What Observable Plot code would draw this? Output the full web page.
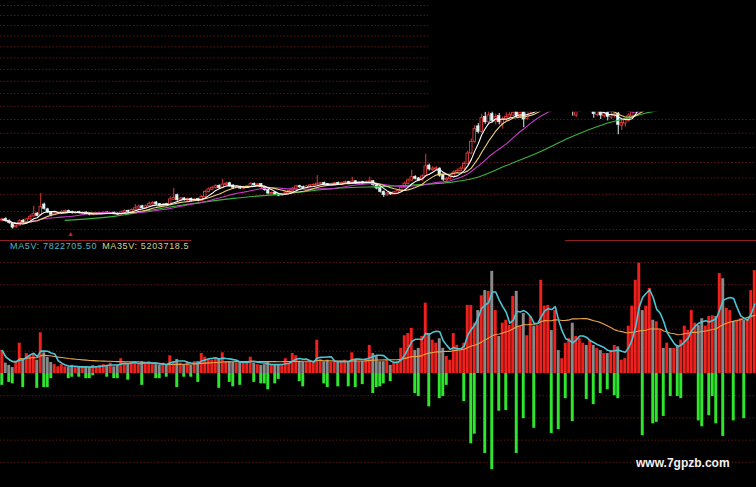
<!DOCTYPE html>
<html><head><meta charset="utf-8">
<script src="https://cdn.jsdelivr.net/npm/d3@7"></script>
<script src="https://cdn.jsdelivr.net/npm/@observablehq/plot@0.6"></script>
<style>
html,body{margin:0;padding:0;background:#000;}
#wrap{position:relative;width:756px;height:487px;background:#000;overflow:hidden;font-family:"Liberation Sans",Arial,sans-serif;}
#top,#bottom{position:absolute;left:0;width:756px;z-index:1;}
#top{top:0;height:240px;}
#bottom{top:240px;height:247px;}
.sep{position:absolute;top:240px;height:1px;background:#8e2020;z-index:3;}
#legend{position:absolute;left:10px;top:241px;white-space:nowrap;font-size:9px;letter-spacing:0.65px;line-height:11px;z-index:3;}
#legend .a{color:#52b8c4;margin-right:5px;}
#legend .b{color:#d6d28c;}
#mark{position:absolute;left:67px;top:230px;color:#d02020;font-size:7px;line-height:8px;z-index:3;}
#wm{position:absolute;left:636px;top:457px;color:#f2f2f2;font-weight:bold;font-size:12px;line-height:12px;z-index:3;}
</style>
</head>
<body>
<div id="wrap">
  <div id="top"></div>
  <div id="bottom"></div>
  <div class="sep" style="left:0;width:191px"></div>
  <div class="sep" style="left:565px;width:191px"></div>
  <div id="mark">▲</div>
  <div id="legend"><span class="a">MA5V: 7822705.50</span><span class="b">MA35V: 5203718.5</span></div>
  <div id="wm">www.7gpzb.com</div>
</div>
<script>
// ---- daily prices (216 sessions) ----
const open = [
19.48,19.58,19.48,19.32,19.12,19.22,19.48,19.40,19.56,19.72,
19.88,19.80,20.40,20.12,19.96,19.80,19.86,19.90,19.96,20.03,
19.97,19.89,19.96,19.88,19.94,19.86,19.79,19.83,19.86,19.89,
19.94,19.86,19.93,19.88,19.83,19.94,20.04,19.98,20.07,20.17,
20.30,20.18,20.30,20.41,20.52,20.42,20.31,20.42,20.38,20.68,
20.95,20.64,20.76,20.63,20.74,20.60,20.72,20.62,20.85,21.14,
21.28,21.38,21.52,21.38,21.58,21.68,21.54,21.38,21.46,21.34,
21.40,21.47,21.64,21.54,21.62,21.46,21.26,21.03,21.10,21.00,
20.92,20.99,21.10,21.19,21.34,21.50,21.45,21.37,21.47,21.54,
21.56,21.64,21.70,21.62,21.54,21.61,21.70,21.61,21.69,21.76,
21.67,21.80,21.69,21.76,21.67,21.73,21.80,21.56,21.38,21.16,
20.94,21.08,21.00,21.10,21.18,21.40,21.64,21.84,22.08,21.98,
21.86,22.12,22.80,22.50,22.55,22.60,22.18,21.86,21.94,22.05,
22.34,22.44,22.60,22.92,23.60,24.40,25.50,25.10,26.20,25.80,
26.40,25.85,26.25,25.70,26.00,26.15,26.30,26.60,26.20,26.55,
26.05,26.60,27.00,26.80,27.20,27.65,28.00,28.35,27.85,28.15,
27.60,27.30,27.10,27.30,26.30,26.60,27.05,27.25,26.75,26.95,
26.35,26.60,26.25,26.50,26.15,26.30,26.45,25.55,25.70,25.90,
26.25,26.70,27.30,28.10,27.70,28.20,28.85,28.45,28.65,28.95,
28.65,28.85,28.55,28.75,28.45,28.65,28.95,29.15,29.60,29.95,
29.65,29.25,29.50,29.80,30.10,29.85,30.65,30.20,30.60,30.95,
30.65,30.90,31.15,30.85,31.10,31.60];
const high = [
19.62,19.64,19.52,19.36,19.26,19.55,19.55,19.62,19.80,20.30,
19.94,21.05,20.48,20.18,20.00,19.95,19.98,20.05,20.08,20.08,
20.02,20.00,20.01,19.98,19.98,19.90,19.89,19.92,19.95,19.98,
19.98,19.97,19.97,19.92,20.02,20.10,20.08,20.15,20.40,20.36,
20.36,20.38,20.55,20.58,20.58,20.46,20.46,20.47,20.85,21.36,
21.02,20.82,20.80,20.78,20.78,20.76,20.77,20.92,21.25,21.40,
21.48,21.58,21.58,21.92,21.74,21.74,21.58,21.52,21.50,21.48,
21.54,21.72,21.70,21.66,21.66,21.50,21.30,21.14,21.14,21.04,
21.06,21.16,21.26,21.42,21.55,21.55,21.50,21.54,21.60,21.64,
22.15,21.74,21.75,21.66,21.68,21.74,21.75,21.76,21.82,21.80,
22.05,21.84,21.80,21.80,21.82,22.05,21.85,21.60,21.42,21.20,
21.12,21.13,21.18,21.28,21.48,21.75,21.95,22.50,22.15,22.04,
22.20,23.55,22.90,22.72,22.74,22.66,22.24,22.05,22.14,22.45,
22.58,22.72,23.05,23.75,24.60,25.55,25.70,26.40,26.55,26.60,
26.70,26.40,26.45,26.20,26.50,26.60,26.70,26.80,26.70,26.75,
26.80,27.10,27.20,27.40,27.90,28.30,28.60,28.50,28.40,28.30,
28.00,27.70,27.60,27.45,26.75,27.30,27.40,27.40,27.10,27.05,
26.75,26.75,26.65,26.65,26.55,26.60,26.55,25.95,26.10,26.45,
26.85,27.50,28.30,28.40,28.40,29.00,29.00,28.90,29.10,29.10,
29.00,29.00,28.90,28.90,28.85,29.15,29.35,29.80,30.15,30.10,
29.80,29.70,30.00,30.25,30.25,30.85,30.90,30.80,31.10,31.10,
31.10,31.30,31.30,31.30,31.80,32.40];
const low = [
19.42,19.40,19.28,19.02,19.06,19.18,19.32,19.36,19.52,19.68,
19.70,19.76,20.08,19.88,19.70,19.76,19.82,19.86,19.92,19.90,
19.85,19.85,19.86,19.84,19.80,19.75,19.76,19.80,19.83,19.86,
19.83,19.83,19.82,19.78,19.80,19.90,19.92,19.95,20.03,20.12,
20.12,20.14,20.26,20.36,20.35,20.26,20.27,20.30,20.34,20.64,
20.60,20.60,20.60,20.58,20.56,20.56,20.56,20.58,20.80,21.08,
21.22,21.33,21.32,21.34,21.52,21.46,21.30,21.34,21.30,21.30,
21.36,21.43,21.50,21.50,21.38,21.18,20.98,20.98,20.92,20.86,
20.88,20.95,21.06,21.15,21.30,21.37,21.33,21.33,21.43,21.50,
21.52,21.60,21.56,21.50,21.50,21.57,21.58,21.57,21.65,21.63,
21.63,21.65,21.65,21.63,21.63,21.69,21.50,21.28,21.08,20.82,
20.90,20.94,20.96,21.06,21.14,21.36,21.60,21.80,21.88,21.78,
21.82,22.08,22.45,22.42,22.48,22.05,21.80,21.80,21.88,22.00,
22.28,22.38,22.55,22.85,23.50,24.30,24.95,25.00,25.65,25.70,
25.75,25.60,25.60,25.30,25.85,26.00,26.20,26.10,26.10,25.40,
25.95,26.45,26.60,26.70,27.10,27.50,27.85,27.70,27.70,27.45,
27.40,27.10,26.90,26.25,26.15,26.55,26.90,26.60,26.55,26.10,
26.20,26.00,26.10,25.90,26.00,26.10,24.90,25.20,25.45,25.80,
26.10,26.60,27.20,27.50,27.60,28.10,28.30,28.30,28.50,28.50,
28.50,28.40,28.40,28.30,28.30,28.55,28.85,29.05,29.50,29.45,
29.10,29.10,29.40,29.70,29.60,29.75,30.00,30.10,30.50,30.50,
30.50,30.80,30.70,30.75,31.00,31.50];
const close = [
19.55,19.45,19.35,19.10,19.20,19.45,19.38,19.55,19.70,19.85,
19.75,20.25,20.15,19.95,19.80,19.88,19.92,19.98,20.02,19.95,
19.90,19.95,19.90,19.93,19.85,19.80,19.84,19.88,19.90,19.93,
19.87,19.92,19.86,19.82,19.95,20.02,19.97,20.08,20.18,20.28,
20.18,20.30,20.42,20.50,20.40,20.32,20.40,20.35,20.70,20.78,
20.65,20.75,20.65,20.72,20.62,20.70,20.62,20.85,21.15,21.30,
21.40,21.50,21.38,21.60,21.65,21.52,21.40,21.45,21.35,21.42,
21.48,21.62,21.55,21.60,21.45,21.25,21.05,21.08,20.98,20.92,
21.00,21.10,21.20,21.35,21.48,21.42,21.38,21.48,21.55,21.58,
21.65,21.68,21.60,21.55,21.62,21.68,21.62,21.70,21.75,21.68,
21.78,21.70,21.74,21.68,21.75,21.80,21.55,21.35,21.15,20.95,
21.05,21.00,21.12,21.20,21.40,21.65,21.85,22.05,21.95,21.85,
22.10,22.75,22.55,22.60,22.62,22.15,21.90,21.95,22.05,22.35,
22.45,22.60,22.90,23.60,24.40,25.30,25.10,26.10,25.80,26.30,
25.90,26.20,25.80,26.00,26.20,26.35,26.50,26.25,26.50,26.00,
26.60,26.90,26.75,27.20,27.70,28.00,28.30,27.90,28.10,27.70,
27.80,27.50,27.40,26.80,26.55,27.10,27.20,26.80,26.90,26.40,
26.55,26.30,26.45,26.20,26.35,26.40,25.60,25.75,25.95,26.30,
26.70,27.30,28.00,27.70,28.20,28.80,28.50,28.70,28.90,28.70,
28.80,28.60,28.70,28.50,28.65,28.95,29.15,29.60,29.90,29.60,
29.30,29.50,29.80,30.05,29.80,30.60,30.20,30.60,30.90,30.70,
30.90,31.10,30.90,31.10,31.60,32.20];
// ---- volume (millions of shares) and outflow shown below zero ----
const volume = [
3.1,1.4,1.1,0.8,1.6,4.1,1.8,2.7,2.4,2.7,
1.8,5.5,2.8,2.2,1.5,1.2,0.9,1.2,0.9,0.8,
1.1,0.9,0.8,0.9,0.9,0.8,1.1,0.9,1.1,1.2,
1.1,1.4,0.9,1.1,2.0,1.4,1.2,1.4,1.5,1.2,
1.6,1.4,1.6,1.2,1.2,1.1,1.4,1.2,2.4,1.6,
1.9,1.4,1.2,1.5,1.1,1.6,1.6,2.7,2.2,1.9,
1.8,2.0,1.9,2.8,1.6,1.6,1.5,1.4,1.6,1.5,
1.4,2.2,1.4,1.2,1.1,1.2,1.5,1.1,1.2,1.1,
1.2,2.0,1.4,2.7,2.4,1.6,1.5,1.5,1.6,1.4,
4.5,1.9,1.6,1.8,1.5,1.6,1.5,1.6,1.8,1.6,
2.8,1.9,1.6,1.6,1.8,3.8,2.7,2.4,1.6,1.6,
1.8,1.1,1.4,1.6,3.4,5.1,5.4,6.1,3.1,3.4,
5.0,9.5,5.4,4.5,4.1,4.7,3.4,2.3,1.8,5.4,
3.8,3.4,4.1,9.2,9.2,6.8,8.5,10.5,11.2,11.1,
13.8,8.5,5.0,6.8,7.2,6.5,10.4,11.1,6.4,8.1,
5.1,7.7,6.4,6.5,12.6,9.1,9.2,5.8,8.5,3.1,
2.0,4.1,4.7,6.8,5.0,4.7,4.1,3.8,4.5,3.8,
3.4,3.1,2.7,2.7,3.1,3.8,3.6,1.8,2.0,6.4,
9.1,12.6,14.9,8.5,9.1,11.5,7.2,7.0,5.9,3.4,
4.1,3.4,3.4,3.8,4.5,6.4,5.8,8.5,6.8,6.5,
7.4,6.4,7.7,7.8,7.7,13.5,12.8,8.8,8.5,7.0,
7.2,7.4,7.2,7.2,11.2,13.9];
const outflow = [
1.6,0,1.2,1.4,0,0,1.9,0,0,0,
2.0,0,1.9,1.9,0.7,0,0,0,0,0.7,
0.5,0,0.5,0,0.7,0.7,0.3,0,0,0,
0.5,0,0.7,0.7,0,0,0.9,0,0,0,
1.6,0,0,0,0.7,0.7,0,0.5,0,0,
1.9,0,0.5,0,0.5,0,1.2,0,0,0,
0,0,2.0,0,0,1.2,1.8,0,1.6,0,
0,0,1.2,0,1.4,1.4,2.2,0,1.4,0.8,
0,0,0,0,0,1.1,1.8,0,0,0,
0,0,1.4,1.9,0,0,1.8,0,0,1.8,
0,1.9,0,1.5,0,0,2.7,1.9,1.8,1.4,
0,1.1,0,0,0,0,0,0,2.7,3.1,
0,0,4.5,0,0,3.4,3.1,1.6,0,0,
0,0,3.8,0,9.5,8.2,0,0,10.8,0,
13.0,0,5.1,0,5.0,0,0,10.8,0,6.1,
0,0,7.4,0,0,0,0,8.1,0,7.6,
0,3.4,0,6.5,0,0,0,3.5,0,4.2,
0,2.7,0,2.2,0,3.0,3.4,0,0,0,
0,0,0,8.4,0,0,6.8,6.6,0,5.8,
0,3.1,0,3.1,3.4,0,0,0,0,6.4,
7.2,0,5.7,3.1,6.8,0,8.5,0,0,6.4,
0,0,6.1,0,0,0];
// long moving average (MA60): [session, price]
const ma60Session = [18,32,47,66,82,95,111,128,135,144,154,162,172,180,184,200,215];
const ma60Price = [19.50,19.72,20.23,20.76,21.06,21.36,21.50,21.73,22.00,22.80,23.75,24.69,25.66,26.18,26.49,27.40,28.30];
// grid levels
const priceGrid = [19,20,21,22,23,24,25,26,27,28,29,30,31,32,33,34,35,36];
const volumeGrid = [-12,-9,-6,-3,3,6,9,12,15];
const priceDomain = [18.41, 36.52];
const volumeDomain = [-15.4, 17.97];
// blacked-out upper-right area of the price panel
const maskFromSession = 121.8;
const maskFromPrice = 26.55;

// ---- build ----
const N = close.length;
const rows = close.map((c, i) => ({i, open: open[i], high: high[i], low: low[i], close: c,
  vol: volume[i], out: outflow[i], up: c >= open[i]}));
const ups = rows.filter(d => d.up), downs = rows.filter(d => !d.up);
const ma60 = ma60Session.map((s, k) => ({i: s, p: ma60Price[k]}));
const xDomain = [-0.5, N - 0.5];
const gridStroke = "#5e1616";
const upC = "#e03c3c", downC = "#dcf4f4";
const bw = 0.36, vw = 0.42;

const topChart = Plot.plot({
  width: 756, height: 240, margin: 0,
  style: {background: "#000"},
  x: {domain: xDomain, axis: null},
  y: {type: "log", domain: priceDomain, axis: null},
  marks: [
    Plot.ruleY(priceGrid, {y: d => d, stroke: gridStroke, strokeDasharray: "1.5,2"}),
    Plot.ruleX(ups, {x: "i", y1: "low", y2: "high", stroke: upC, strokeWidth: 1}),
    Plot.ruleX(downs, {x: "i", y1: "low", y2: "high", stroke: downC, strokeWidth: 1}),
    Plot.rect(ups, {x1: d => d.i - bw, x2: d => d.i + bw, y1: "open", y2: "close", fill: "#000", stroke: upC, strokeWidth: 0.9}),
    Plot.rect(downs, {x1: d => d.i - bw, x2: d => d.i + bw, y1: "open", y2: "close", fill: downC, stroke: downC, strokeWidth: 0.6}),
    Plot.line(ma60, {x: "i", y: "p", stroke: "#3cb43c", strokeWidth: 1.1, curve: "catmull-rom"}),
    Plot.lineY(rows, Plot.windowY({k: 20, anchor: "end"}, {x: "i", y: "close", stroke: "#c83cc8", strokeWidth: 1.1})),
    Plot.lineY(rows, Plot.windowY({k: 10, anchor: "end"}, {x: "i", y: "close", stroke: "#ecd27a", strokeWidth: 1.1})),
    Plot.lineY(rows, Plot.windowY({k: 5, anchor: "end"}, {x: "i", y: "close", stroke: "#ffffff", strokeWidth: 1.1})),
    Plot.rect([{x1: maskFromSession, x2: N - 0.5, y1: maskFromPrice, y2: priceDomain[1]}],
      {x1: "x1", x2: "x2", y1: "y1", y2: "y2", fill: "#000"})
  ]
});
document.getElementById("top").appendChild(topChart);

const bottomChart = Plot.plot({
  width: 756, height: 247, margin: 0,
  style: {background: "#000"},
  x: {domain: xDomain, axis: null},
  y: {domain: volumeDomain, axis: null},
  marks: [
    Plot.ruleY(volumeGrid, {y: d => d, stroke: gridStroke, strokeDasharray: "1.5,2"}),
    Plot.rect(ups, {x1: d => d.i - vw, x2: d => d.i + vw, y1: 0, y2: "vol", fill: "#f0201c"}),
    Plot.rect(downs, {x1: d => d.i - vw, x2: d => d.i + vw, y1: 0, y2: "vol", fill: "#8a8a8a"}),
    Plot.rect(rows.filter(d => d.out > 0), {x1: d => d.i - vw, x2: d => d.i + vw, y1: 0, y2: d => -d.out, fill: "#2ee62e"}),
    Plot.lineY(rows, Plot.windowY({k: 35, anchor: "end"}, {x: "i", y: "vol", stroke: "#eaa448", strokeWidth: 1.1})),
    Plot.lineY(rows, Plot.windowY({k: 5, anchor: "end"}, {x: "i", y: "vol", stroke: "#4cc4d4", strokeWidth: 1.6}))
  ]
});
document.getElementById("bottom").appendChild(bottomChart);
</script>
</body></html>
